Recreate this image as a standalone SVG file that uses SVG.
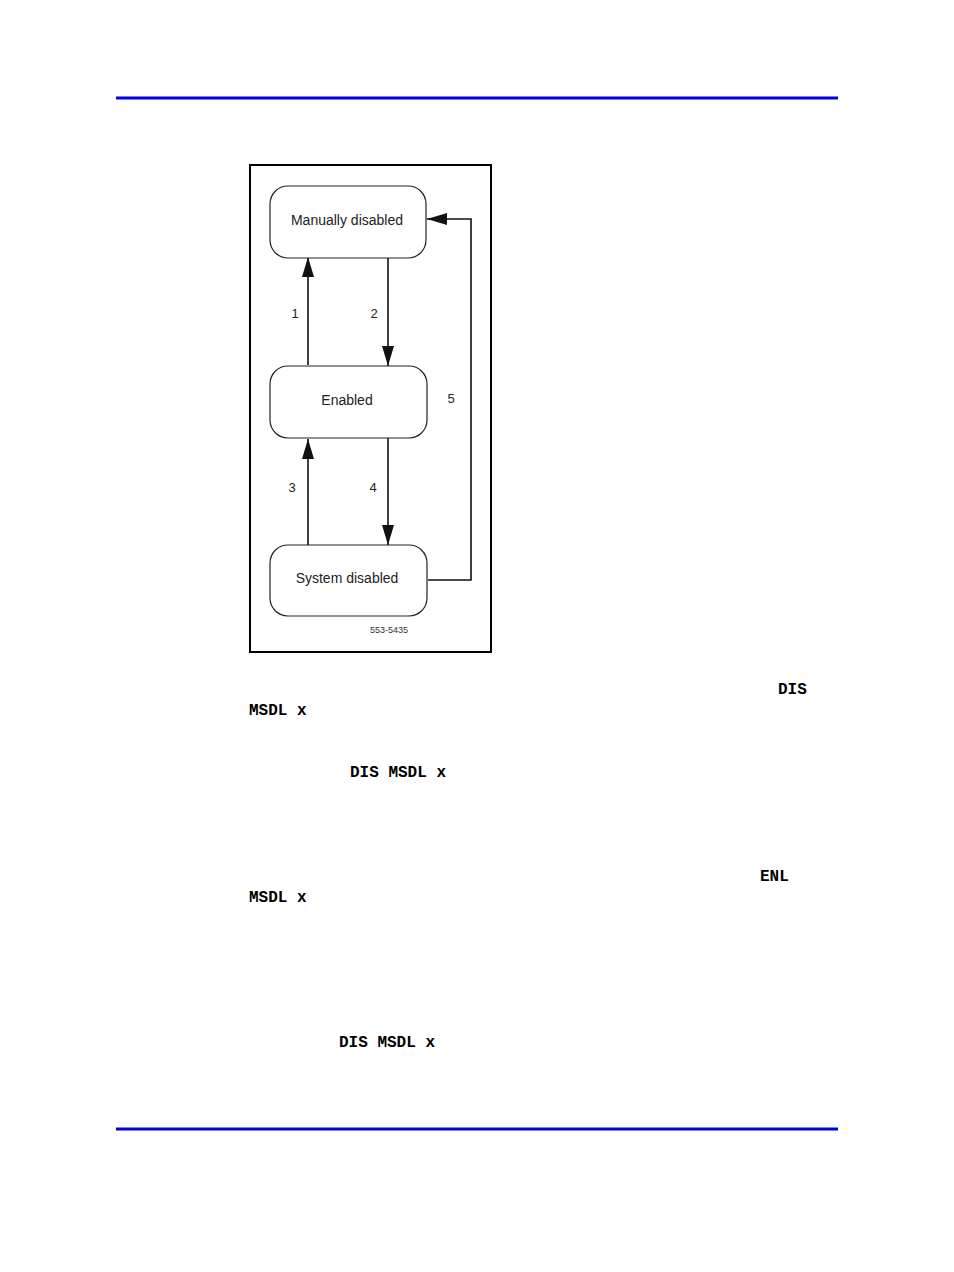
<svg xmlns="http://www.w3.org/2000/svg" width="954" height="1272" viewBox="0 0 954 1272">
<defs>
<style>
.node{fill:#fff;stroke:#222;stroke-width:1.2}
.lbl{font-family:"Liberation Sans",Arial,sans-serif;font-size:14px;fill:#222;text-anchor:middle}
.num{font-family:"Liberation Sans",Arial,sans-serif;font-size:13px;fill:#222;text-anchor:middle}
.mono{font-family:"Liberation Mono","Courier New",monospace;font-size:16px;font-weight:bold;fill:#000}
.c{fill:none;stroke:#111;stroke-width:1.6}
</style>
<marker id="ah2" viewBox="0 0 10 10" refX="10" refY="5" markerWidth="20" markerHeight="12" markerUnits="userSpaceOnUse" orient="auto" preserveAspectRatio="none"><path d="M0,0 L10,5 L0,10 z" fill="#111"/></marker>
</defs>
<rect width="954" height="1272" fill="#fff"/>
<line x1="116" y1="98" x2="838" y2="98" stroke="#0000dd" stroke-width="3"/>
<line x1="116" y1="1129" x2="838" y2="1129" stroke="#0000dd" stroke-width="3"/>
<rect x="250" y="165" width="241" height="487" fill="none" stroke="#000" stroke-width="2"/>
<g id="connectors">
<line class="c" x1="308" y1="365" x2="308" y2="257" marker-end="url(#ah2)"/>
<line class="c" x1="388" y1="258" x2="388" y2="366" marker-end="url(#ah2)"/>
<line class="c" x1="308" y1="546" x2="308" y2="439" marker-end="url(#ah2)"/>
<line class="c" x1="388" y1="438" x2="388" y2="545" marker-end="url(#ah2)"/>
<polyline class="c" stroke-width="1.2" points="428,580 471,580 471,219 427,219" marker-end="url(#ah2)"/>
<text class="num" x="295" y="318">1</text>
<text class="num" x="374" y="318">2</text>
<text class="num" x="292" y="492">3</text>
<text class="num" x="373" y="492">4</text>
<text class="num" x="451" y="403">5</text>
</g>
<g id="manually"><rect class="node" x="270" y="186" width="156" height="72" rx="18"/><text class="lbl" x="347" y="225">Manually disabled</text></g>
<g id="enabled"><rect class="node" x="270" y="366" width="157" height="72" rx="18"/><text class="lbl" x="347" y="405">Enabled</text></g>
<g id="system"><rect class="node" x="270" y="545" width="157" height="71" rx="18"/><text class="lbl" x="347" y="583">System disabled</text></g>
<text x="389" y="633" style="font-family:'Liberation Sans',Arial,sans-serif;font-size:9px;fill:#333" text-anchor="middle">553-5435</text>
<text class="mono" x="778" y="694">DIS</text>
<text class="mono" x="249" y="715">MSDL x</text>
<text class="mono" x="350" y="777">DIS MSDL x</text>
<text class="mono" x="760" y="881">ENL</text>
<text class="mono" x="249" y="902">MSDL x</text>
<text class="mono" x="339" y="1047">DIS MSDL x</text>
</svg>
